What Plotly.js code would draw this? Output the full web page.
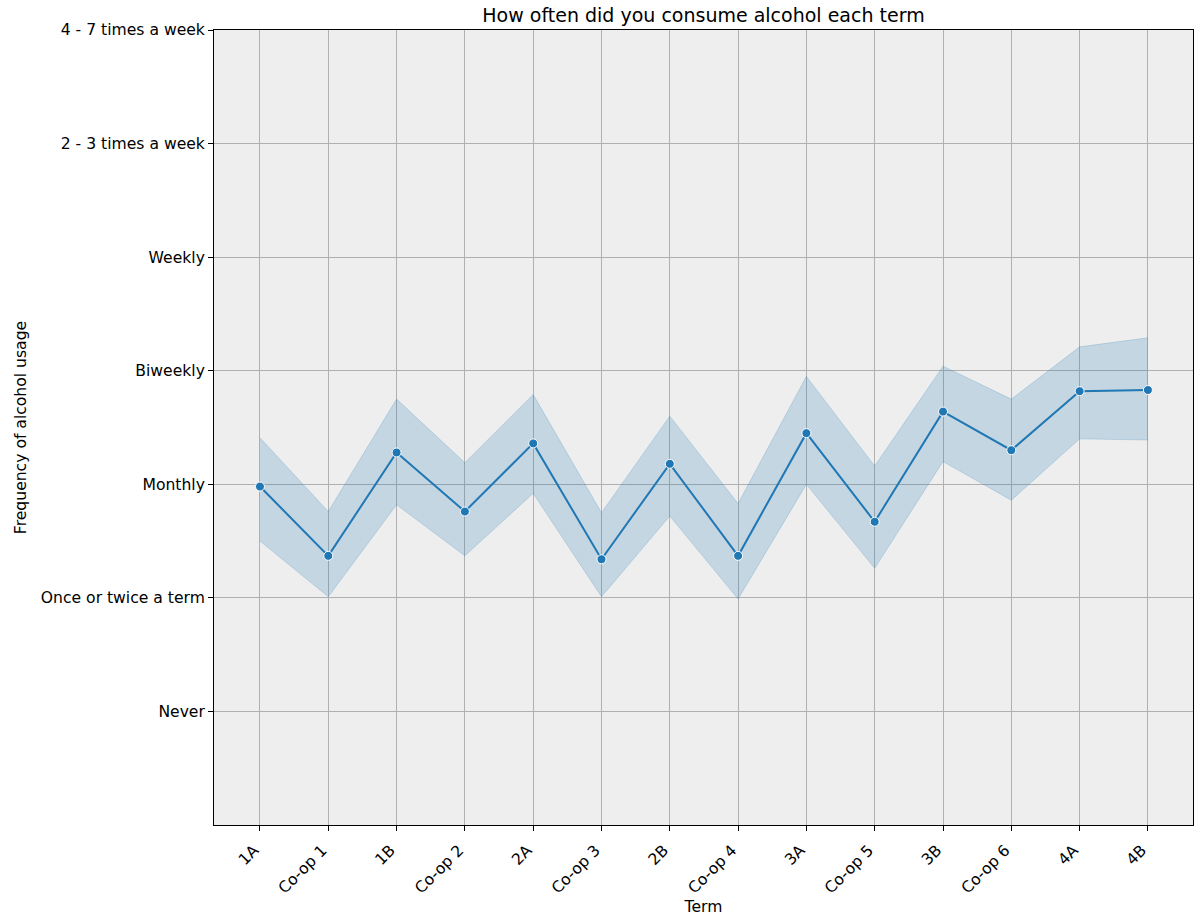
<!DOCTYPE html>
<html>
<head>
<meta charset="utf-8">
<script src="https://cdn.plot.ly/plotly-3.0.1.min.js"></script>
<style>
  html, body { margin: 0; padding: 0; background: #ffffff; }
  #chart { width: 1198px; height: 916px; }
</style>
</head>
<body>
<div id="chart"></div>
<script>
const terms = ["1A", "Co-op 1", "1B", "Co-op 2", "2A", "Co-op 3", "2B", "Co-op 4", "3A", "Co-op 5", "3B", "Co-op 6", "4A", "4B"];
const meanVals  = [1.98, 1.37, 2.28, 1.76, 2.36, 1.34, 2.18, 1.37, 2.45, 1.67, 2.64, 2.30, 2.82, 2.83];
const upperVals = [2.41, 1.76, 2.75, 2.19, 2.79, 1.75, 2.60, 1.83, 2.95, 2.16, 3.04, 2.75, 3.21, 3.29];
const lowerVals = [1.50, 1.01, 1.82, 1.37, 1.92, 1.01, 1.72, 0.99, 2.00, 1.26, 2.20, 1.86, 2.40, 2.39];
const freqLabels = ["Never", "Once or twice a term", "Monthly", "Biweekly", "Weekly", "2 - 3 times a week", "4 - 7 times a week"];
const freqValues = [0, 1, 2, 3, 4, 5, 6];

const font = "DejaVu Sans, sans-serif";
const blue = "#1f77b4";
const bandFill = "rgba(31,119,180,0.2)";
const tickSize = 15.6;

const traces = [
  {
    x: terms, y: lowerVals, type: "scatter", mode: "lines",
    line: { color: bandFill, width: 1 }, hoverinfo: "skip", showlegend: false
  },
  {
    x: terms, y: upperVals, type: "scatter", mode: "lines",
    fill: "tonexty", fillcolor: bandFill,
    line: { color: bandFill, width: 1 }, hoverinfo: "skip", showlegend: false
  },
  {
    x: terms, y: meanVals, type: "scatter", mode: "lines+markers",
    line: { color: blue, width: 2 },
    marker: { color: blue, size: 9, line: { color: "#ffffff", width: 1 } },
    showlegend: false
  }
];

const layout = {
  width: 1198, height: 916,
  margin: { l: 214, r: 5, t: 30, b: 91 },
  paper_bgcolor: "#ffffff",
  plot_bgcolor: "#eeeeee",
  font: { family: font, size: tickSize, color: "#000000" },
  title: {
    text: "How often did you consume alcohol each term",
    font: { family: font, size: 19, color: "#000000" },
    x: 0.5, xref: "paper", xanchor: "center",
    y: 1, yref: "paper", yanchor: "bottom", pad: { b: 8 }
  },
  xaxis: {
    type: "category",
    categoryorder: "array", categoryarray: terms,
    range: [-0.673, 13.66],
    showgrid: true, gridcolor: "#b0b0b0", gridwidth: 1,
    showline: true, linecolor: "#000000", linewidth: 1, mirror: true,
    ticks: "outside", ticklen: 5, tickcolor: "#000000", tickwidth: 1,
    tickangle: -45,
    ticklabelshift: -6, ticklabelstandoff: 4,
    tickfont: { family: font, size: tickSize, color: "#000000" },
    title: { text: "Term", font: { family: font, size: tickSize, color: "#000000" }, standoff: 4 },
    zeroline: false, automargin: false
  },
  yaxis: {
    range: [-1, 6],
    tickvals: freqValues, ticktext: freqLabels,
    showgrid: true, gridcolor: "#b0b0b0", gridwidth: 1,
    showline: true, linecolor: "#000000", linewidth: 1, mirror: true,
    ticks: "outside", ticklen: 5, tickcolor: "#000000", tickwidth: 1,
    tickfont: { family: font, size: tickSize, color: "#000000" },
    title: { text: "Frequency of alcohol usage", font: { family: font, size: tickSize, color: "#000000" }, standoff: 10 },
    zeroline: false, automargin: false
  }
};

Plotly.newPlot("chart", traces, layout, { displayModeBar: false, staticPlot: true });
</script>
</body>
</html>
